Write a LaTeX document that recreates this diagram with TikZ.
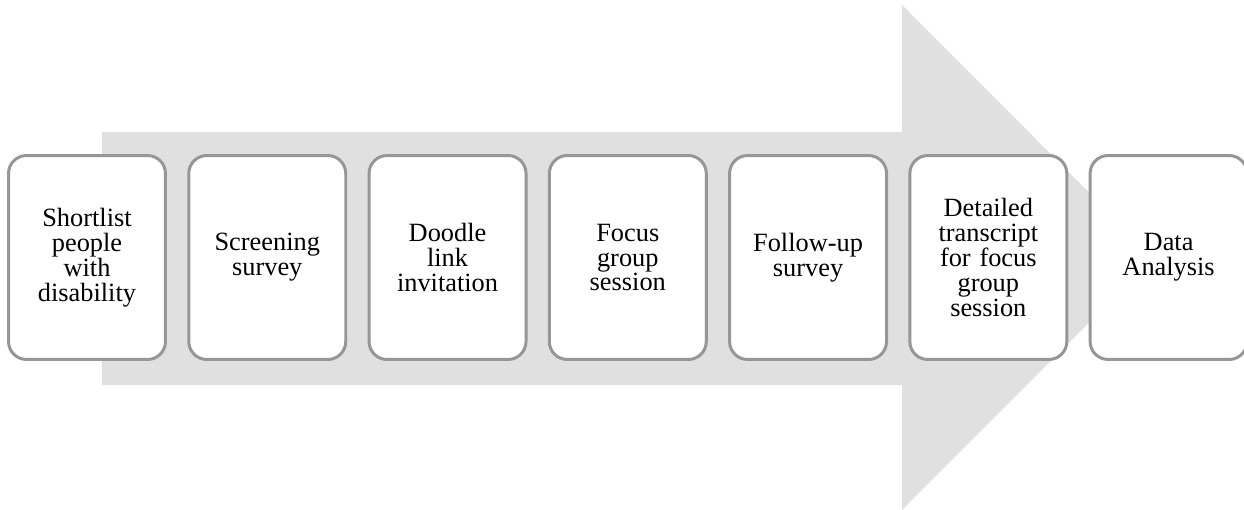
\documentclass[tikz,border=0pt]{standalone}
\usepackage{fontspec}
\setmainfont{Liberation Serif}
\usetikzlibrary{positioning}
\definecolor{arrowgray}{HTML}{E0E0E0}
\definecolor{boxgray}{HTML}{969696}
\tikzset{
  stepbox/.style={draw=boxgray, line width=1.7pt, fill=white, rounded corners=0.36cm,
    minimum width=3.14cm, minimum height=4.08cm, text width=3cm, align=center,
    inner sep=0pt, outer sep=0pt, font=\fontsize{15}{14.2}\selectfont}
}
\begin{document}
\begin{tikzpicture}[x=0.02cm, y=-0.02cm]
   \useasboundingbox (0,0) rectangle (1244,510);
   %% big arrow behind the steps
   \fill[arrowgray] (102,132) -- (902,132) -- (902,5) -- (1154,257.5) -- (902,510)
        -- (902,385) -- (102,385) -- cycle;
   \node[stepbox] (s1) at (87,257.5) {Shortlist\\people\\with\\disability};
 \foreach \i/\j/\Label in {2/1/{Screening\\survey}, 3/2/{Doodle\\link\\invitation},
        4/3/{Focus\\group\\session}, 5/4/{Follow-up\\survey},
        6/5/{Detailed\\transcript\\for focus\\group\\session}, 7/6/{Data\\Analysis}}
        \node[stepbox, right=0.466cm of s\j] (s\i) {\Label};
\end{tikzpicture}
\end{document}
